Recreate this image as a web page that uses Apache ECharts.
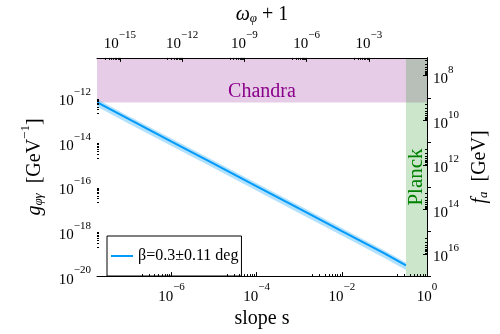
<!DOCTYPE html>
<html>
<head>
<meta charset="utf-8">
<script src="https://cdn.jsdelivr.net/npm/echarts@6/dist/echarts.min.js"></script>
<style>
    html, body { margin: 0; padding: 0; background: #fff; }
    #chart { width: 500px; height: 334px; }
</style>
</head>
<body>
<div id="chart"></div>
<script>
// slope s and the coupling band
const slope = [1.8e-8, 1e-7, 1e-6, 1e-5, 1e-4, 1e-3, 1e-2, 1e-1, 0.32];
const gMid = [6.4e-13, 1.12e-13, 1.1e-14, 1.1e-15, 1.08e-16, 1.07e-17, 1.05e-18, 1.04e-19, 3.0e-20];
const gLow = [4.0e-13, 7.0e-14, 6.9e-15, 6.9e-16, 6.8e-17, 6.7e-18, 6.6e-19, 6.5e-20, 1.9e-20];
const gHigh = [8.8e-13, 1.53e-13, 1.5e-14, 1.5e-15, 1.48e-16, 1.47e-17, 1.44e-18, 1.42e-19, 4.1e-20];

// excluded regions
const chandraLimit = 6.3e-13;   // g above this is excluded
const planckLimit = 0.32;       // s above this is excluded

// axis ranges (log10) and tick exponents
const sRange = [-7.75, 0];
const gRange = [-20, -10.2];
const wRange = [-16.1, -0.2];
const faRange = [7.2, 17];
const sTicks = [-6, -4, -2, 0];
const gTicks = [-20, -18, -16, -14, -12];
const wTicks = [-15, -12, -9, -6, -3];
const faTicks = [8, 10, 12, 14, 16];

const legendName = 'β=0.3±0.11 deg';
const serif = 'Liberation Serif';
const L = Math.log10;

function minors(majors, range) {
    let out = [];
    majors.forEach((n) => {
        for (let k = 2; k <= 9; k++) {
            let v = n - 1 + L(k);
            if (v > range[0] && v < range[1]) out.push(v);
        }
    });
    return out;
}

function powLabel(v) {
    let e = Math.round(v);
    return '{b|10}{s|' + (e < 0 ? '−' + (-e) : e) + '}';
}

const labelRich = {
    b: { fontSize: 15, fontFamily: serif, color: '#000', lineHeight: 22, verticalAlign: 'bottom' },
    s: { fontSize: 11, fontFamily: serif, color: '#000', lineHeight: 12, verticalAlign: 'top' }
};
const nameRich = {
    i: { fontSize: 20, fontFamily: serif, fontStyle: 'italic', color: '#000', lineHeight: 26, verticalAlign: 'bottom' },
    n: { fontSize: 20, fontFamily: serif, color: '#000', lineHeight: 26, verticalAlign: 'bottom' },
    sub: { fontSize: 13, fontFamily: serif, fontStyle: 'italic', color: '#000', lineHeight: 14, verticalAlign: 'bottom' },
    sup: { fontSize: 13, fontFamily: serif, color: '#000', lineHeight: 14, verticalAlign: 'top' }
};

function majorAxis(extra, range, ticks) {
    return Object.assign({
        type: 'value',
        min: range[0],
        max: range[1],
        z: 5,
        splitLine: { show: false },
        axisLine: { show: true, lineStyle: { color: '#000', width: 1 } },
        axisTick: { show: true, inside: true, length: 4, lineStyle: { color: '#000' }, customValues: ticks },
        axisLabel: { show: true, customValues: ticks, formatter: powLabel, rich: labelRich, margin: 6 }
    }, extra);
}

function minorAxis(extra, range, ticks) {
    return Object.assign({
        type: 'value',
        min: range[0],
        max: range[1],
        z: 5,
        splitLine: { show: false },
        axisLine: { show: false },
        axisTick: { show: true, inside: true, length: 2, lineStyle: { color: '#000' }, customValues: minors(ticks, range) },
        axisLabel: { show: false }
    }, extra);
}

const midData = slope.map((s, i) => [L(s), L(gMid[i])]);

// the shaded ±β band as one polygon: upper edge forward, lower edge back
function renderBand(params, api) {
    if (params.dataIndex !== 0) return;
    let pts = [];
    slope.forEach((s, i) => pts.push(api.coord([L(s), L(gHigh[i])])));
    for (let i = slope.length - 1; i >= 0; i--) pts.push(api.coord([L(slope[i]), L(gLow[i])]));
    return {
        type: 'polygon',
        shape: { points: pts },
        style: { fill: 'rgba(0,154,250,0.3)' }
    };
}

const myChart = echarts.init(document.getElementById('chart'));
myChart.setOption({
    animation: false,
    grid: { left: 97, right: 73, top: 56, bottom: 53 },
    legend: {
        data: [{ name: legendName, icon: 'rect' }],
        left: 107,
        top: 236,
        orient: 'vertical',
        padding: [12, 3, 12, 4],
        borderColor: '#000',
        borderWidth: 1,
        borderRadius: 0,
        backgroundColor: '#fff',
        itemWidth: 22,
        itemHeight: 2,
        textStyle: { fontFamily: serif, fontSize: 16, color: '#000' }
    },
    xAxis: [
        majorAxis({
            position: 'bottom',
            name: 'slope s',
            nameLocation: 'middle',
            nameGap: 28,
            nameTextStyle: { fontFamily: serif, fontSize: 20, color: '#000' }
        }, sRange, sTicks),
        majorAxis({
            position: 'top',
            name: '{i|ω}{sub|φ}{n| + 1}',
            nameLocation: 'middle',
            nameGap: 28,
            nameTextStyle: { rich: nameRich }
        }, wRange, wTicks),
        minorAxis({ position: 'bottom' }, sRange, sTicks),
        minorAxis({ position: 'top' }, wRange, wTicks)
    ],
    yAxis: [
        majorAxis({
            position: 'left',
            name: '{i|g}{sub|φγ}{n|  [GeV}{sup|−1}{n|]}',
            nameLocation: 'middle',
            nameGap: 52,
            nameRotate: 90,
            nameTextStyle: { rich: nameRich }
        }, gRange, gTicks),
        majorAxis({
            position: 'right',
            inverse: true,
            name: '{i|f}{sub|a}{n|  [GeV]}',
            nameLocation: 'middle',
            nameGap: 26,
            nameRotate: 90,
            nameTextStyle: { rich: nameRich }
        }, faRange, faTicks),
        minorAxis({ position: 'left' }, gRange, gTicks),
        minorAxis({ position: 'right', inverse: true }, faRange, faTicks)
    ],
    series: [
        {
            name: 'regions',
            type: 'line',
            data: [],
            silent: true,
            markArea: {
                silent: true,
                data: [
                    [
                        {
                            coord: [sRange[0], L(chandraLimit)],
                            itemStyle: { color: 'rgba(128,0,128,0.2)' },
                            label: {
                                show: true,
                                position: 'insideBottom',
                                distance: 1,
                                formatter: 'Chandra',
                                color: '#8b008b',
                                fontFamily: serif,
                                fontSize: 20
                            }
                        },
                        { coord: [sRange[1], gRange[1]] }
                    ],
                    [
                        {
                            coord: [L(planckLimit), gRange[0]],
                            itemStyle: { color: 'rgba(0,128,0,0.2)' },
                            label: {
                                show: true,
                                position: 'inside',
                                rotate: 90,
                                offset: [-10, 0],
                                formatter: 'Planck',
                                color: '#008000',
                                fontFamily: serif,
                                fontSize: 21
                            }
                        },
                        { coord: [sRange[1], gRange[1]] }
                    ]
                ]
            }
        },
        {
            name: 'band',
            type: 'custom',
            renderItem: renderBand,
            data: [midData[0]],
            silent: true,
            clip: true
        },
        {
            name: legendName,
            type: 'line',
            data: midData,
            symbol: 'none',
            color: '#009afa',
            lineStyle: { color: '#009afa', width: 2 }
        }
    ]
});
</script>
</body>
</html>
